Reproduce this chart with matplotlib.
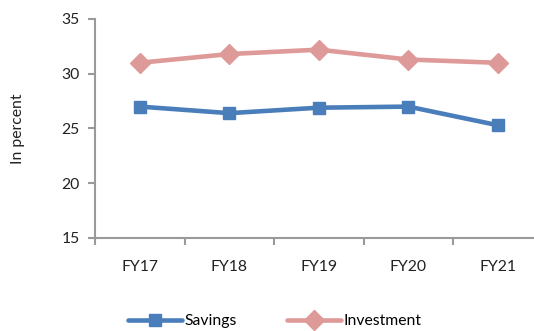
import matplotlib.pyplot as plt
from matplotlib.ticker import FixedLocator, NullFormatter, FixedFormatter

# Savings and investment as percent of GDP
years = ["FY17", "FY18", "FY19", "FY20", "FY21"]
savings = [27.0, 26.4, 26.9, 27.0, 25.3]
investment = [31.0, 31.8, 32.2, 31.3, 31.0]

plt.rcParams['font.family'] = ['Lato', 'DejaVu Sans']

blue = '#4A7EBB'
pink = '#DE9A98'
axis_grey = '#9A9A9A'
fs = 11.3

fig = plt.figure(figsize=(5.34, 3.31), dpi=100)
ax = fig.add_axes([0.178, 0.281, 0.838, 0.6616])

x = list(range(len(years)))
ax.plot(x, savings, color=blue, lw=3.3, marker='s', ms=8.5,
        label='Savings', solid_capstyle='round')
ax.plot(x, investment, color=pink, lw=3.3, marker='D', ms=10,
        label='Investment', solid_capstyle='round')

ax.set_xlim(-0.5, len(years) - 0.5)
ax.set_ylim(15, 35)
ax.set_yticks([15, 20, 25, 30, 35])

# category boundaries get the tick marks, centers get the labels
ax.xaxis.set_major_locator(FixedLocator([i - 0.5 for i in range(len(years) + 1)]))
ax.xaxis.set_major_formatter(NullFormatter())
ax.xaxis.set_minor_locator(FixedLocator(x))
ax.xaxis.set_minor_formatter(FixedFormatter(years))
ax.tick_params(axis='x', which='minor', length=0, pad=16, labelsize=fs, colors='#222222')
ax.tick_params(axis='x', which='major', length=5, width=1.5, color=axis_grey)
ax.tick_params(axis='y', length=5, width=1.5, color=axis_grey, labelsize=fs,
               labelcolor='#222222', pad=6)

for side in ['top', 'right']:
    ax.spines[side].set_visible(False)
for side in ['left', 'bottom']:
    ax.spines[side].set_color(axis_grey)
    ax.spines[side].set_linewidth(1.5)

ax.set_ylabel('In percent', fontsize=fs, color='#222222', labelpad=26)

fig.legend(loc='center', bbox_to_anchor=(0.515, 0.03), ncol=2, frameon=False,
           fontsize=fs, handlelength=3.4, columnspacing=3.2, handletextpad=0.2)

fig.savefig('out.png', dpi=100)
